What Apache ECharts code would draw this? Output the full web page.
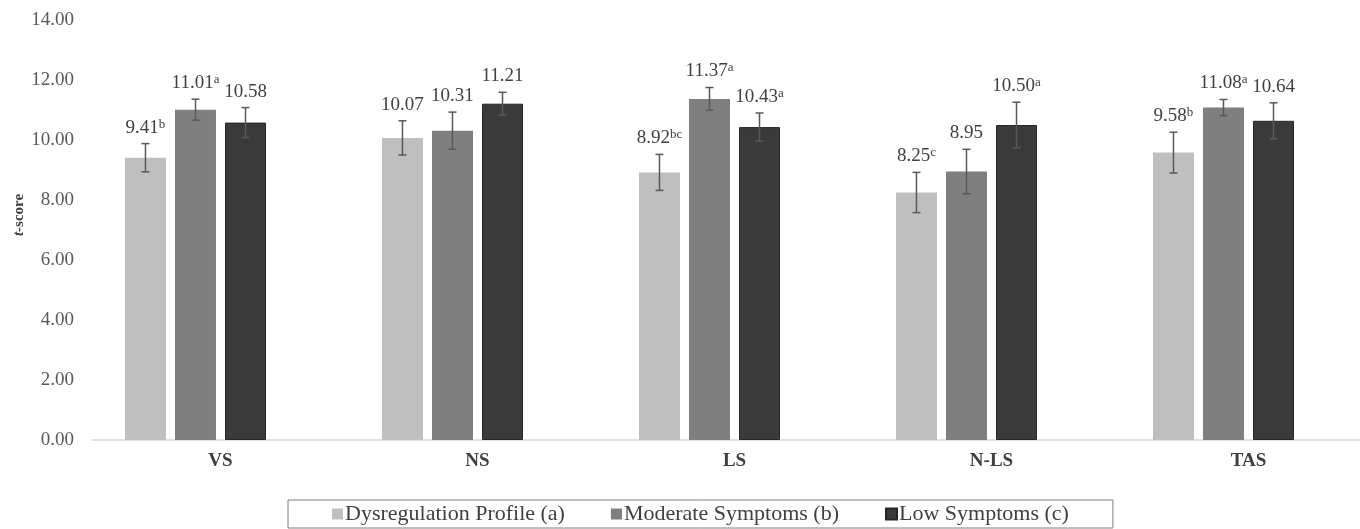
<!DOCTYPE html>
<html>
<head>
<meta charset="utf-8">
<script src="https://cdn.jsdelivr.net/npm/echarts@6/dist/echarts.min.js"></script>
<style>
html,body{margin:0;padding:0;background:#fff;overflow:hidden;width:1360px;height:529px;}
#chart{width:1377px;height:529px;}
</style>
</head>
<body>
<div id="chart"></div>
<script>
// ---- data ----
var categories = ['VS', 'NS', 'LS', 'N-LS', 'TAS'];
var seriesNames = ['Dysregulation Profile (a)', 'Moderate Symptoms (b)', 'Low Symptoms (c)'];
var dysregulation = [9.41, 10.07, 8.92, 8.25, 9.58];
var moderate = [11.01, 10.31, 11.37, 8.95, 11.08];
var low = [10.58, 11.21, 10.43, 10.50, 10.64];
var dysregulationErr = [0.47, 0.57, 0.60, 0.67, 0.68];
var moderateErr = [0.35, 0.62, 0.38, 0.74, 0.27];
var lowErr = [0.50, 0.38, 0.47, 0.76, 0.60];
var dysregulationSup = ['b', '', 'bc', 'c', 'b'];
var moderateSup = ['a', '', 'a', '', 'a'];
var lowSup = ['', '', 'a', 'a', ''];
var yTicks = [0, 2, 4, 6, 8, 10, 12, 14];

// ---- styling / layout ----
var colors = ['#bfbfbf', '#7f7f7f', '#3a3a3a'];
var BAR_W = 41;
var BAR_GAP_PCT = 22;
var SERIF = '"Liberation Serif", "Times New Roman", serif';

var means = [dysregulation, moderate, low];
var errs = [dysregulationErr, moderateErr, lowErr];
var sups = [dysregulationSup, moderateSup, lowSup];

var errData = [];
for (var s = 0; s < 3; s++) {
  for (var c = 0; c < categories.length; c++) {
    errData.push([c, means[s][c], errs[s][c], s, sups[s][c]]);
  }
}

var chart = echarts.init(document.getElementById('chart'), null, {renderer: 'canvas'});

function renderErr(params, api) {
  var ci = api.value(0), m = api.value(1), e = api.value(2), si = api.value(3);
  var idx = params.dataIndex;
  var sup = errData[idx][4];
  var step = BAR_W * (1 + BAR_GAP_PCT / 100);
  var center = api.coord([ci, m]);
  var x = center[0] + (si - 1.5) * step;
  var top = api.coord([ci, m + e])[1];
  var bot = api.coord([ci, m - e])[1];
  var cap = 4;
  var st = {stroke: '#595959', lineWidth: 1.5};
  var label = '{v|' + m.toFixed(2) + '}' + (sup ? '{s|' + sup + '}' : '');
  return {
    type: 'group',
    children: [
      {type: 'line', shape: {x1: x, y1: top, x2: x, y2: bot}, style: st},
      {type: 'line', shape: {x1: x - cap, y1: top, x2: x + cap, y2: top}, style: st},
      {type: 'line', shape: {x1: x - cap, y1: bot, x2: x + cap, y2: bot}, style: st},
      {type: 'text', x: x, y: top - 6,
        style: {
          text: label,
          align: 'center',
          verticalAlign: 'bottom',
          fill: '#404040',
          rich: {
            v: {fontFamily: SERIF, fontSize: 19, fill: '#404040', lineHeight: 20},
            s: {fontFamily: SERIF, fontSize: 13, fill: '#404040', lineHeight: 13, verticalAlign: 'top'}
          }
        }
      }
    ]
  };
}

var barSeries = seriesNames.map(function (n, i) {
  return {
    name: n,
    type: 'bar',
    data: means[i],
    barWidth: BAR_W,
    barGap: BAR_GAP_PCT + '%',
    itemStyle: {color: colors[i], borderColor: i === 2 ? '#262626' : colors[i], borderWidth: i === 2 ? 1 : 0},
    silent: true,
    z: 2
  };
});
// empty placeholder series (reserves the 4th slot as in the original chart)
barSeries.push({name: 'placeholder', type: 'bar', data: [], barWidth: BAR_W, barGap: BAR_GAP_PCT + '%', silent: true});

chart.setOption({
  animation: false,
  backgroundColor: '#ffffff',
  grid: {left: 92, top: 20, right: 0, bottom: 89},
  legend: {
    data: seriesNames,
    left: 288,
    top: 500,
    padding: [3, 44, 3, 44],
    borderColor: '#7f7f7f',
    borderWidth: 1,
    itemWidth: 11,
    itemHeight: 11,
    itemGap: 46,
    icon: 'rect',
    textStyle: {fontFamily: SERIF, fontSize: 22, color: '#404040', padding: [0, 0, 0, -3]}
  },
  graphic: [{
    type: 'text',
    x: 19, y: 215,
    rotation: Math.PI / 2,
    style: {
      text: '{i|t}{b|-score}',
      align: 'center',
      verticalAlign: 'middle',
      rich: {
        i: {fontFamily: SERIF, fontSize: 15, fontStyle: 'italic', fontWeight: 'bold', fill: '#404040'},
        b: {fontFamily: SERIF, fontSize: 15, fontWeight: 'bold', fill: '#404040'}
      }
    }
  }],
  xAxis: {
    type: 'category',
    data: categories,
    axisLine: {lineStyle: {color: '#d9d9d9', width: 1.5}},
    axisTick: {show: false},
    axisLabel: {fontFamily: SERIF, fontSize: 19, fontWeight: 'bold', color: '#404040', margin: 12}
  },
  yAxis: {
    type: 'value',
    min: yTicks[0],
    max: yTicks[yTicks.length - 1],
    interval: yTicks[1] - yTicks[0],
    splitLine: {show: false},
    axisLine: {show: false},
    axisTick: {show: false},
    axisLabel: {fontFamily: SERIF, fontSize: 19, color: '#595959', margin: 18,
      formatter: function (v) { return v.toFixed(2); }}
  },
  series: barSeries.concat([{
    type: 'custom',
    renderItem: renderErr,
    data: errData,
    silent: true,
    z: 5
  }])
});
</script>
</body>
</html>
